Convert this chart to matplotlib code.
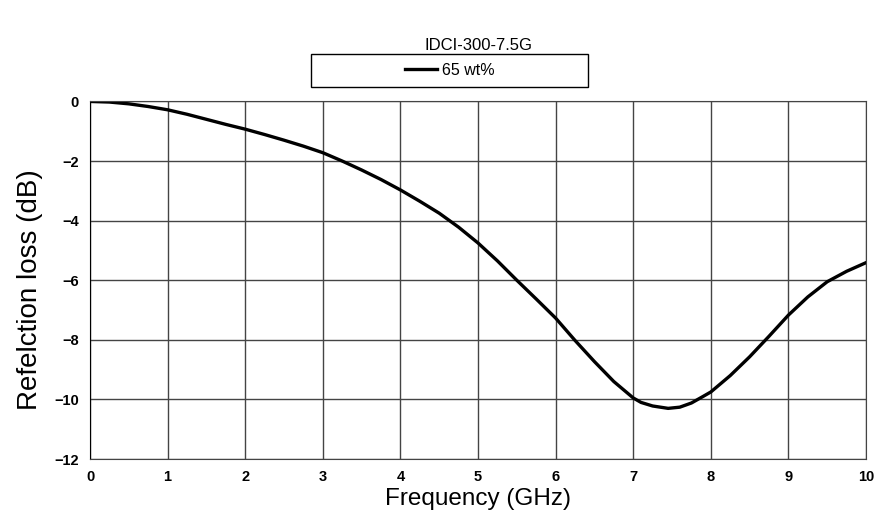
import numpy as np
import matplotlib
matplotlib.use('Agg')
import matplotlib.pyplot as plt
from matplotlib.patches import Rectangle

plt.rcParams['font.family'] = ['Liberation Sans', 'DejaVu Sans']

freq = [0, 0.25, 0.5, 0.75, 1, 1.25, 1.5, 1.75, 2, 2.25, 2.5, 2.75, 3, 3.25,
        3.5, 3.75, 4, 4.25, 4.5, 4.75, 5, 5.25, 5.5, 5.75, 6, 6.25, 6.5, 6.75,
        7, 7.1, 7.25, 7.45, 7.6, 7.75, 7.9, 8, 8.25, 8.5, 8.75, 9, 9.25, 9.5,
        9.75, 10]
rl = [0, -0.02, -0.08, -0.17, -0.28, -0.43, -0.6, -0.77, -0.93, -1.11, -1.3,
      -1.5, -1.72, -2.0, -2.3, -2.62, -2.97, -3.35, -3.75, -4.22, -4.75,
      -5.35, -6.0, -6.63, -7.27, -8.02, -8.73, -9.4, -9.95, -10.1, -10.22,
      -10.3, -10.26, -10.12, -9.9, -9.75, -9.2, -8.57, -7.88, -7.17, -6.56,
      -6.05, -5.7, -5.41]
xticks = list(range(0, 11))
yticks = list(range(-12, 1, 2))

fig = plt.figure(figsize=(8.94, 5.15), dpi=100)
ax = fig.add_axes([0.1007, 0.1087, 0.868, 0.6943])

ax.plot(freq, rl, color='black', lw=2.4, label='65 wt%')
ax.set_xlim(0, 10)
ax.set_ylim(-12, 0)
ax.set_xticks(xticks)
ax.set_yticks(yticks)
ax.set_yticklabels([str(t).replace('-', '\u2212') for t in yticks])
ax.grid(True, color='#444444', lw=1)
ax.tick_params(length=0, labelsize=10.5, pad=8)
for lab in ax.get_xticklabels() + ax.get_yticklabels():
    lab.set_fontweight('bold')
for s in ax.spines.values():
    s.set_color('#444444')
ax.spines['left'].set_color('black')

ax.set_xlabel('Frequency (GHz)', fontsize=17.5, labelpad=3)
ax.set_ylabel('Refelction loss (dB)', fontsize=20)
ax.yaxis.set_label_coords(-0.060, 0.475)

fig.text(0.535, 0.912, 'IDCI-300-7.5G', fontsize=12, ha='center', va='center')

fig.patches.append(Rectangle((0.348, 0.831), 0.310, 0.064, transform=fig.transFigure,
                             fill=False, edgecolor='black', lw=1))
fig.legend(loc='center', bbox_to_anchor=(0.503, 0.863), frameon=False,
           fontsize=11.5, handlelength=2.0, handletextpad=0.3)

fig.savefig('out.png', dpi=100)
